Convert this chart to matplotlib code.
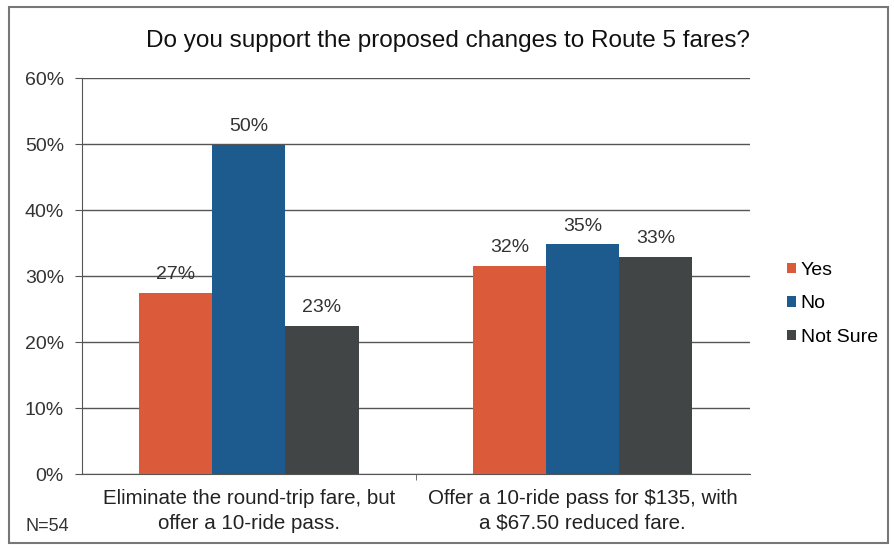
import matplotlib
matplotlib.use("Agg")
import matplotlib.pyplot as plt
import numpy as np
from matplotlib.patches import Rectangle

plt.rcParams['font.family'] = ['Liberation Sans', 'DejaVu Sans']

title = "Do you support the proposed changes to Route 5 fares?"
categories = ["Eliminate the round-trip fare, but\noffer a 10-ride pass.",
              "Offer a 10-ride pass for $135, with\na $67.50 reduced fare."]
series = ["Yes", "No", "Not Sure"]
yes = [27.4, 31.6]
no = [49.9, 34.8]
not_sure = [22.5, 32.9]
yes_lbl = ["27%", "32%"]
no_lbl = ["50%", "35%"]
not_sure_lbl = ["23%", "33%"]
colors = ["#DA5A3A", "#1D5B8E", "#414545"]
note = "N=54"

fig = plt.figure(figsize=(8.95, 5.5), dpi=100)
ax = fig.add_axes([0.0916, 0.138, 0.746, 0.72])

x = np.arange(len(categories))
w = 0.219
vals = [yes, no, not_sure]
lbls = [yes_lbl, no_lbl, not_sure_lbl]
for i, (v, l) in enumerate(zip(vals, lbls)):
    pos = x + (i - 1) * w
    ax.bar(pos, v, w, color=colors[i], label=series[i], zorder=3)
    for p, vv, t in zip(pos, v, l):
        ax.text(p, vv + 1.5, t, ha='center', va='bottom', fontsize=14, color='#333333')

ax.set_xlim(-0.5, 1.5)
ax.set_ylim(0, 60)
ax.set_yticks(np.arange(0, 61, 10))
ax.set_yticklabels([f"{t}%" for t in range(0, 61, 10)], fontsize=14, color='#333333')
ax.yaxis.grid(True, color='#555555', linewidth=1.0, zorder=0)
ax.set_xticks(x)
ax.set_xticklabels(categories, fontsize=14.8, color='#222222', linespacing=1.35)
ax.set_xticks([0.5], minor=True)
ax.tick_params(axis='x', which='major', length=0, pad=11)
ax.tick_params(axis='x', which='minor', length=4, color='#555555')
ax.tick_params(axis='y', length=5, color='#555555', pad=8)
for s in ['top', 'right']:
    ax.spines[s].set_visible(False)
for s in ['left', 'bottom']:
    ax.spines[s].set_color('#555555')

fig.text(0.5, 0.925, title, ha='center', va='center', fontsize=17.5, color='#111111')
fig.text(0.028, 0.035, note, fontsize=13, color='#333333')

leg = ax.legend(loc='center left', bbox_to_anchor=(1.03, 0.43), frameon=False,
                fontsize=14, handlelength=0.45, handleheight=0.45, handletextpad=0.25,
                labelspacing=0.85)

fig.patches.append(Rectangle((0.01, 0.012), 0.982, 0.975, transform=fig.transFigure,
                             fill=False, edgecolor='#777777', linewidth=1.5))

fig.savefig("out.png", dpi=100)
